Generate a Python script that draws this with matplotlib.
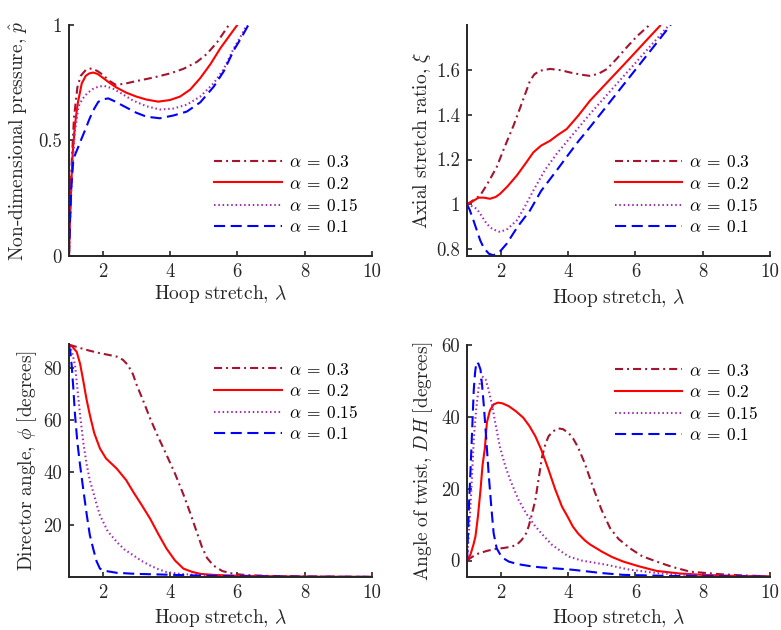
import numpy as np
import matplotlib
matplotlib.use('Agg')
import matplotlib.pyplot as plt
from matplotlib.ticker import FuncFormatter

plt.rcParams['font.family'] = 'cmr10'
plt.rcParams['mathtext.fontset'] = 'cm'
plt.rcParams['axes.formatter.use_mathtext'] = True
plt.rcParams['axes.unicode_minus'] = False
plt.rcParams['lines.scale_dashes'] = False

# legend labels / styles (alpha = 0.3, 0.2, 0.15, 0.1)
alphas = ['0.3', '0.2', '0.15', '0.1']
colors = ['#A2142F', '#FF0000', '#9E30B0', '#0000FF']
styles = [(0, (5.8, 2.9, 1.4, 2.9)), '-', (0, (1.1, 2.0)), (0, (8, 4))]

# ---- panel (a): non-dimensional pressure vs hoop stretch
lam_p_03 = [1.0, 1.03, 1.08, 1.15, 1.25, 1.35, 1.5, 1.67, 1.85, 2.0, 2.2, 2.4, 2.7, 3.0,
            3.5, 4.0, 4.4, 4.8, 5.1, 5.4, 5.75]
p_03 = [0, 0.18, 0.40, 0.60, 0.73, 0.78, 0.805, 0.812, 0.80, 0.785, 0.758, 0.74, 0.747, 0.757,
        0.772, 0.79, 0.81, 0.84, 0.875, 0.925, 1.0]
lam_p_02 = [1.0, 1.03, 1.07, 1.11, 1.18, 1.26, 1.38, 1.5, 1.6, 1.72, 1.85, 2.0, 2.2, 2.4, 2.7,
            3.0, 3.3, 3.65, 4.0, 4.3, 4.6, 4.9, 5.2, 5.5, 5.75, 6.0]
p_02 = [0, 0.156, 0.32, 0.444, 0.57, 0.66, 0.747, 0.78, 0.79, 0.794, 0.788, 0.772, 0.75, 0.73,
        0.707, 0.69, 0.677, 0.668, 0.675, 0.69, 0.72, 0.77, 0.83, 0.9, 0.95, 1.0]
lam_p_015 = [1.0, 1.04, 1.1, 1.18, 1.28, 1.4, 1.55, 1.7, 1.87, 2.05, 2.3, 2.6, 2.9, 3.3, 3.7,
             4.1, 4.5, 4.9, 5.3, 5.6, 5.9, 6.1, 6.28]
p_015 = [0, 0.18, 0.38, 0.54, 0.646, 0.68, 0.705, 0.722, 0.733, 0.736, 0.725, 0.7, 0.673, 0.648,
         0.634, 0.638, 0.655, 0.69, 0.748, 0.81, 0.9, 0.95, 1.0]
lam_p_01 = [1.0, 1.03, 1.07, 1.13, 1.2, 1.28, 1.38, 1.48, 1.6, 1.72, 1.87, 2.0, 2.17, 2.35, 2.66,
            3.0, 3.3, 3.7, 4.1, 4.5, 4.9, 5.3, 5.6, 5.9, 6.1, 6.33]
p_01 = [0, 0.15, 0.3, 0.416, 0.445, 0.473, 0.51, 0.545, 0.59, 0.63, 0.667, 0.678, 0.682, 0.67,
        0.646, 0.62, 0.603, 0.596, 0.608, 0.625, 0.665, 0.733, 0.8, 0.892, 0.94, 1.0]

# ---- panel (b): axial stretch ratio
lam_x_03 = [1.0, 1.2, 1.39, 1.6, 1.88, 2.1, 2.38, 2.6, 2.87, 3.0, 3.17, 3.47, 3.8, 4.06, 4.4,
            4.65, 4.9, 5.15, 5.45, 5.74, 6.05, 6.39]
xi_03 = [1.0, 1.02, 1.04, 1.09, 1.166, 1.25, 1.351, 1.44, 1.551, 1.58, 1.596, 1.604, 1.598, 1.588,
         1.578, 1.573, 1.582, 1.603, 1.65, 1.70, 1.75, 1.796]
lam_x_02 = [1.0, 1.15, 1.34, 1.5, 1.68, 1.85, 1.98, 2.2, 2.48, 2.75, 2.97, 3.2, 3.47, 3.7, 3.96,
            4.3, 4.65, 5.0, 5.3, 5.64, 6.0, 6.35, 6.73]
xi_02 = [1.0, 1.012, 1.03, 1.03, 1.025, 1.033, 1.047, 1.08, 1.129, 1.185, 1.232, 1.262, 1.284,
         1.31, 1.336, 1.395, 1.462, 1.518, 1.566, 1.62, 1.678, 1.735, 1.796]
lam_x_015 = [1.0, 1.1, 1.2, 1.29, 1.45, 1.58, 1.75, 1.98, 2.2, 2.48, 2.7, 2.97, 3.3, 3.66, 4.0,
             4.3, 4.65, 5.0, 5.3, 5.64, 6.0, 6.5, 6.98]
xi_015 = [1.0, 0.995, 0.988, 0.98, 0.945, 0.914, 0.89, 0.877, 0.89, 0.929, 0.985, 1.062, 1.15,
          1.225, 1.286, 1.34, 1.403, 1.462, 1.513, 1.57, 1.63, 1.715, 1.796]
lam_x_01 = [1.0, 1.08, 1.19, 1.3, 1.39, 1.5, 1.65, 1.78, 1.95, 2.18, 2.5, 2.87, 3.2, 3.66, 4.0,
            4.3, 4.65, 5.0, 5.3, 5.64, 6.0, 6.5, 7.05]
xi_01 = [1.0, 0.975, 0.929, 0.88, 0.84, 0.805, 0.78, 0.773, 0.785, 0.825, 0.9, 0.973, 1.06, 1.151,
         1.22, 1.28, 1.344, 1.41, 1.467, 1.532, 1.6, 1.695, 1.8]

# ---- panel (c): director angle
lam_f_03 = [1.0, 1.3, 1.6, 1.92, 2.2, 2.42, 2.6, 2.75, 2.9, 3.01, 3.2, 3.41, 3.65, 3.9, 4.15,
            4.4, 4.6, 4.8, 4.95, 5.1, 5.29, 5.55, 5.89, 6.3, 7.0, 8.0, 9.0, 10.0]
phi_03 = [88.8, 87.6, 86.5, 85.5, 84.8, 84.2, 83.0, 81.0, 77.5, 73.4, 67.5, 60.6, 53.5, 46.6,
          39.5, 31.5, 24.5, 17.0, 11.5, 7.3, 4.4, 2.3, 1.2, 0.7, 0.4, 0.2, 0.1, 0.05]
lam_f_02 = [1.0, 1.1, 1.23, 1.33, 1.43, 1.52, 1.62, 1.75, 1.92, 2.1, 2.42, 2.7, 2.91, 3.15, 3.41,
            3.65, 3.9, 4.15, 4.4, 4.65, 4.9, 5.3, 6.0, 7.0, 8.0, 10.0]
phi_02 = [88.5, 88.0, 86.0, 81.5, 74.6, 68.0, 61.9, 55.0, 49.1, 45.3, 41.4, 37.0, 32.5, 27.7,
          22.3, 16.5, 10.8, 6.3, 3.2, 2.0, 1.2, 0.8, 0.5, 0.3, 0.15, 0.05]
lam_f_015 = [1.0, 1.08, 1.18, 1.25, 1.33, 1.43, 1.53, 1.62, 1.72, 1.82, 1.92, 2.15, 2.42, 2.65,
             2.91, 3.15, 3.41, 3.65, 3.9, 4.3, 5.0, 6.0, 8.0, 10.0]
phi_015 = [88.5, 86.5, 81.0, 72.0, 61.9, 51.0, 42.7, 37.0, 32.5, 27.8, 23.6, 17.5, 13.4, 10.5,
           8.3, 6.2, 4.4, 3.0, 1.9, 1.2, 0.6, 0.3, 0.1, 0.05]
lam_f_01 = [1.0, 1.04, 1.08, 1.13, 1.18, 1.25, 1.33, 1.43, 1.53, 1.62, 1.72, 1.82, 1.92, 2.05,
            2.42, 3.0, 3.9, 5.0, 6.0, 8.0, 10.0]
phi_01 = [88.5, 86.0, 81.0, 72.0, 61.9, 51.5, 42.7, 33.0, 23.6, 16.0, 10.8, 6.0, 3.2, 2.4, 1.6,
          1.2, 0.9, 0.5, 0.3, 0.1, 0.05]

# ---- panel (d): angle of twist
lam_t_03 = [1.0, 1.15, 1.35, 1.6, 1.84, 2.1, 2.34, 2.5, 2.63, 2.75, 2.83, 2.93, 3.03, 3.13, 3.23,
            3.33, 3.42, 3.55, 3.72, 3.85, 4.02, 4.15, 4.3, 4.5, 4.75, 5.0, 5.25, 5.5, 5.84, 6.2,
            6.63, 7.1, 7.62, 8.5, 9.3, 10.0]
dh_03 = [0, 1.0, 2.0, 2.7, 3.2, 3.5, 3.9, 4.6, 5.8, 7.5, 9.5, 13.0, 16.9, 23.0, 29.0, 32.5, 34.6,
         36.0, 36.8, 36.6, 35.5, 34.0, 31.5, 27.0, 20.2, 14.0, 9.0, 6.0, 3.4, 1.2, -0.3, -1.8,
         -3.1, -3.8, -4.2, -4.4]
lam_t_02 = [1.0, 1.1, 1.19, 1.25, 1.32, 1.4, 1.46, 1.53, 1.59, 1.68, 1.79, 1.92, 2.05, 2.24, 2.45,
            2.67, 2.85, 3.03, 3.2, 3.42, 3.62, 3.82, 4.0, 4.14, 4.3, 4.5, 4.65, 5.0, 5.3, 5.64,
            6.1, 6.63, 7.3, 8.0, 9.0, 10.0]
dh_02 = [0, 1.6, 4.4, 6.7, 12.0, 19.7, 26.5, 31.3, 38.5, 41.8, 43.5, 44.0, 43.8, 43.0, 41.6, 39.8,
         37.5, 34.6, 31.0, 25.3, 19.8, 15.0, 12.0, 9.5, 7.5, 5.6, 4.5, 2.5, 1.0, -0.3, -1.6, -2.9,
         -3.6, -4.0, -4.3, -4.4]
lam_t_015 = [1.0, 1.05, 1.1, 1.15, 1.2, 1.27, 1.35, 1.45, 1.55, 1.64, 1.74, 1.84, 1.98, 2.14, 2.3,
             2.53, 2.75, 3.03, 3.3, 3.52, 3.8, 4.02, 4.4, 5.15, 5.8, 6.63, 7.5, 8.5, 10.0]
dh_015 = [0, 7, 15, 24, 33.7, 42, 48.6, 51.3, 50.5, 47.6, 43.5, 38.3, 31.5, 26.2, 22, 16.9, 13.2,
          9.5, 6.6, 4.4, 2.5, 1.1, 0.0, -1.2, -2.5, -3.5, -4.0, -4.3, -4.4]
lam_t_01 = [1.0, 1.03, 1.06, 1.1, 1.15, 1.2, 1.24, 1.28, 1.34, 1.4, 1.45, 1.5, 1.57, 1.64, 1.72,
            1.79, 1.88, 1.99, 2.1, 2.24, 2.5, 2.83, 3.17, 3.92, 4.16, 5.0, 5.64, 7.0, 8.5, 10.0]
dh_01 = [0, 8, 16, 24.4, 36, 47.6, 52.5, 55.3, 54.8, 53.2, 48.5, 43, 34, 24.4, 15, 7.6, 3.4, 1.6,
         0.5, -0.3, -1.0, -1.5, -1.9, -2.4, -2.6, -3.5, -4.0, -4.3, -4.4, -4.5]

xlabel = r'$\mathrm{Hoop\ stretch,}\,\lambda$'

panels = [
    dict(rect=[0.0883, 0.5937, 0.388, 0.3667],
         x=[lam_p_03, lam_p_02, lam_p_015, lam_p_01], y=[p_03, p_02, p_015, p_01],
         ylim=(0, 1), yticks=[0, 0.5, 1],
         ylabel=r'$\mathrm{Non}$-$\mathrm{dimensional\ pressure,}\,\hat{p}$',
         leg=(0.48, 0.44), ylc=-0.127, xlc=-0.115),
    dict(rect=[0.598, 0.5937, 0.388, 0.3667],
         x=[lam_x_03, lam_x_02, lam_x_015, lam_x_01], y=[xi_03, xi_02, xi_015, xi_01],
         ylim=(0.77, 1.8), yticks=[0.8, 1, 1.2, 1.4, 1.6],
         ylabel=r'$\mathrm{Axial\ stretch\ ratio,}\,\xi$',
         leg=(0.487, 0.44), ylc=-0.113, xlc=-0.134),
    dict(rect=[0.0883, 0.0841, 0.388, 0.3698],
         x=[lam_f_03, lam_f_02, lam_f_015, lam_f_01], y=[phi_03, phi_02, phi_015, phi_01],
         ylim=(0, 89), yticks=[20, 40, 60, 80],
         ylabel=r'$\mathrm{Director\ angle,}\,\phi\ \mathrm{[degrees]}$',
         leg=(0.48, 0.925), ylc=-0.10, xlc=-0.128),
    dict(rect=[0.598, 0.0841, 0.388, 0.368],
         x=[lam_t_03, lam_t_02, lam_t_015, lam_t_01], y=[dh_03, dh_02, dh_015, dh_01],
         ylim=(-4.6, 60), yticks=[0, 20, 40, 60],
         ylabel=r'$\mathrm{Angle\ of\ twist,}\,DH\ \mathrm{[degrees]}$',
         leg=(0.487, 0.925), ylc=-0.105, xlc=-0.128),
]

fig = plt.figure(figsize=(7.81, 6.30), dpi=100)

for pn in panels:
    ax = fig.add_axes(pn['rect'])
    for xs, ys, a, c, ls in zip(pn['x'], pn['y'], alphas, colors, styles):
        ax.plot(xs, ys, color=c, linestyle=ls, linewidth=1.5, label=r'$\alpha\:=\:%s$' % a)
    ax.set_xlim(1, 10)
    ax.set_ylim(*pn['ylim'])
    ax.set_xticks([2, 4, 6, 8, 10])
    ax.set_yticks(pn['yticks'])
    ax.xaxis.set_major_formatter(FuncFormatter(lambda v, p: '%g' % v))
    ax.yaxis.set_major_formatter(FuncFormatter(lambda v, p: '%g' % v))
    for s in ['top', 'right']:
        ax.spines[s].set_visible(False)
    for s in ['left', 'bottom']:
        ax.spines[s].set_linewidth(1.4)
        ax.spines[s].set_color('#262626')
    ax.tick_params(direction='in', length=3.5, width=1.2, color='#262626',
                   labelsize=13.5, labelcolor='#262626', pad=5)
    ax.set_xlabel(xlabel, fontsize=14, color='#262626')
    ax.set_ylabel(pn['ylabel'], fontsize=14, color='#262626')
    ax.yaxis.set_label_coords(pn['ylc'], 0.5)
    ax.xaxis.set_label_coords(0.5, pn['xlc'])
    ax.legend(loc='upper left', bbox_to_anchor=pn['leg'], frameon=False, fontsize=12.5,
              handlelength=3.9, handletextpad=0.4, labelspacing=0.3,
              borderpad=0, borderaxespad=0)

fig.savefig('out.png', dpi=100)
